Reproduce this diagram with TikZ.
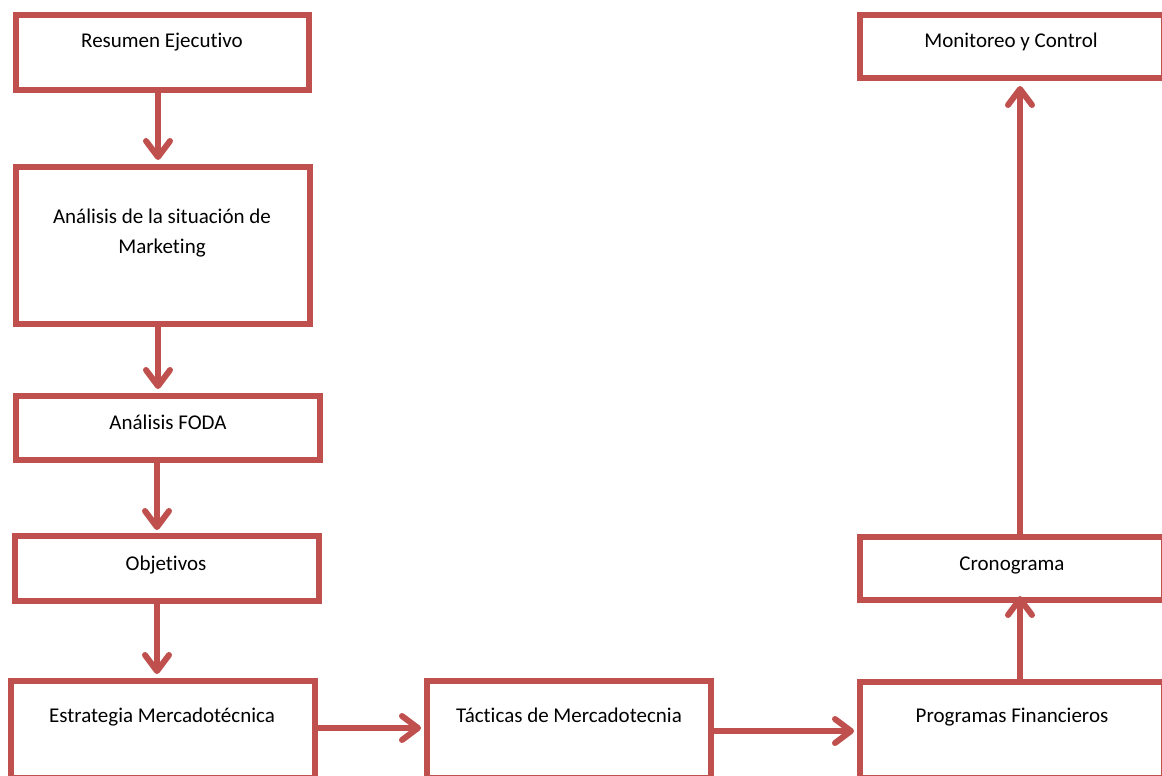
\documentclass[tikz,border=0pt]{standalone}
\usepackage{fontspec}
\setmainfont{Carlito}[Ligatures={NoCommon,NoRequired,NoContextual}]
\usetikzlibrary{arrows.meta}
\definecolor{boxred}{RGB}{192,80,77}
\begin{document}
\begin{tikzpicture}[x=1pt,y=-1pt,
  box/.style={draw=boxred, line width=6pt, rectangle, inner sep=0pt},
  lbl/.style={anchor=base, font=\fontsize{21}{30}\selectfont, inner sep=0pt, align=center, text=black},
  arr/.style={draw=boxred, line width=6pt, -{Straight Barb[length=16pt,width=24pt,round]}}]
\useasboundingbox (0,0) rectangle (1162,776);
\clip (0,0) rectangle (1162,776);
% boxes
\node[box, minimum width=293pt, minimum height=75pt] (b1) at (162.5,52.5) {};
\node[box, minimum width=294pt, minimum height=157pt] (b2) at (163,245.5) {};
\node[box, minimum width=304pt, minimum height=64pt] (b3) at (168,428) {};
\node[box, minimum width=304pt, minimum height=65pt] (b4) at (167,568.5) {};
\node[box, minimum width=304pt, minimum height=97pt] (b5) at (163,729.5) {};
\node[box, minimum width=284pt, minimum height=97pt] (b6) at (569,729.5) {};
\node[box, minimum width=304pt, minimum height=96pt] (b7) at (1012,730) {};
\node[box, minimum width=304pt, minimum height=63pt] (b8) at (1012,568.5) {};
\node[box, minimum width=304pt, minimum height=63pt] (b9) at (1012,46.5) {};
% labels
\node[lbl] (t1) at (162,48) {Resumen Ejecutivo};
\node[lbl] (t2) at (162,253) {Análisis de la situación de\\Marketing};
\node[lbl] (t3) at (168,429) {Análisis FODA};
\node[lbl] (t4) at (166,570) {Objetivos};
\node[lbl] (t5) at (162,722) {Estrategia Mercadotécnica};
\node[lbl] (t6) at (569,722) {Tácticas de Mercadotecnia};
\node[lbl] (t7) at (1012,722) {Programas Financieros};
\node[lbl] (t8) at (1012,570) {Cronograma};
\node[lbl] (t9) at (1011,48) {Monitoreo y Control};
% connectors
\draw[arr, shorten >=4pt] (b1.south -| 158,0) -- (b2.north -| 158,0);
\draw[arr, shorten >=4pt, shorten <=-6pt] (b2.south -| 158,0) -- (b3.north -| 158,0);
\draw[arr, shorten >=3pt] (b3.south -| 157,0) -- (b4.north -| 157,0);
\draw[arr, shorten >=4pt] (b4.south -| 157,0) -- (b5.north -| 157,0);
\draw[arr, shorten >=3pt] (b5.east |- 0,728) -- (b6.west |- 0,728);
\draw[arr, shorten >=3pt] (b6.east |- 0,731) -- (b7.west |- 0,731);
\draw[arr, shorten >=-7pt] (b7.north -| 1020,0) -- (b8.south -| 1020,0);
\draw[arr, shorten >=5pt] (b8.north -| 1020,0) -- (b9.south -| 1020,0);
\end{tikzpicture}
\end{document}
